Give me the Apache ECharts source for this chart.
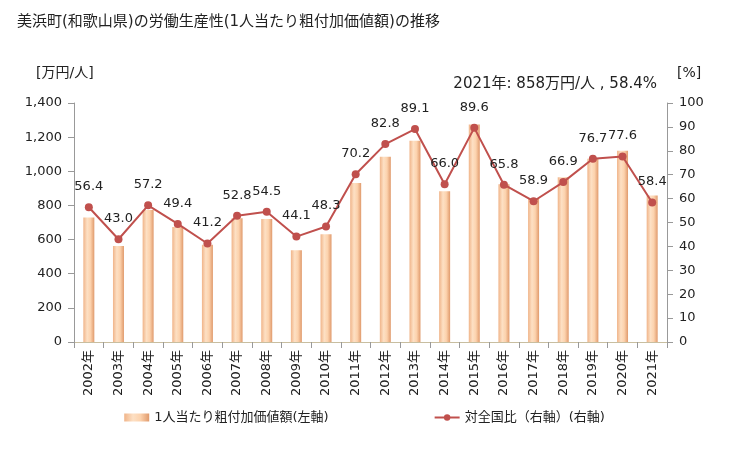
<!DOCTYPE html>
<html><head><meta charset="utf-8">
<script src="https://cdn.jsdelivr.net/npm/echarts@6/dist/echarts.min.js"></script>
<style>html,body{margin:0;padding:0;background:#fff}#c{width:729px;height:450px}</style>
</head><body><div id="c"></div>
<script>
const categories = ['2002年','2003年','2004年','2005年','2006年','2007年','2008年','2009年','2010年','2011年','2012年','2013年','2014年','2015年','2016年','2017年','2018年','2019年','2020年','2021年'];
const productivity = [730,562,773,674,570,725,721,537,631,931,1085,1179,883,1274,924,842,965,1073,1120,858];
const ratio = [56.4,43.0,57.2,49.4,41.2,52.8,54.5,44.1,48.3,70.2,82.8,89.1,66.0,89.6,65.8,58.9,66.9,76.7,77.6,58.4];
const leftTicks = {min:0,max:1400,interval:200};
const rightTicks = {min:0,max:100,interval:10};
const titleText = '美浜町(和歌山県)の労働生産性(1人当たり粗付加価値額)の推移';
const noteText = '2021年: 858万円/人 , 58.4%';
const barName = '1人当たり粗付加価値額(左軸)';
const lineName = '対全国比（右軸）(右軸)';

const font = 'Verdana, "DejaVu Sans", "Noto Sans CJK JP", sans-serif';
const chart = echarts.init(document.getElementById('c'));
chart.setOption({
  animation:false,
  textStyle:{fontFamily:font},
  title:{text:titleText,left:12,top:10,textStyle:{fontSize:15,fontWeight:'normal',color:'#222',fontFamily:font}},
  graphic:[
    {type:'text',left:36,top:66,style:{text:'[万円/人]',fontSize:14,fill:'#222',fontFamily:font}},
    {type:'text',left:677,top:66,style:{text:'[%]',fontSize:14,fill:'#222',fontFamily:font}},
    {type:'text',right:72,top:77,style:{text:noteText,fontSize:15,fill:'#222',fontFamily:font}}
  ],
  grid:{left:74,right:62,top:103,bottom:108},
  legend:{bottom:21,left:'center',itemGap:105,itemWidth:25,itemHeight:8,
    textStyle:{fontSize:13,color:'#222',fontFamily:font},
    data:[{name:barName,icon:'rect'},{name:lineName}]},
  xAxis:[{type:'category',data:categories,
    axisLine:{lineStyle:{color:'#999'}},
    axisTick:{show:true,lineStyle:{color:'#999'},length:6},
    axisLabel:{rotate:90,fontSize:13,color:'#222',margin:8,fontFamily:font}},
    {type:'category',position:'top',data:categories,axisLine:{show:true,lineStyle:{color:'#c8bea0'}},axisTick:{show:false},axisLabel:{show:false}}],
  yAxis:[{type:'value',min:leftTicks.min,max:leftTicks.max,interval:leftTicks.interval,
    axisLine:{show:true,lineStyle:{color:'#999'}},axisTick:{show:true,length:6,lineStyle:{color:'#999'}},
    splitLine:{show:false},
    axisLabel:{fontSize:13,color:'#222',margin:12,fontFamily:font,formatter:v=>v.toLocaleString('en-US')}},
    {type:'value',min:rightTicks.min,max:rightTicks.max,interval:rightTicks.interval,position:'right',
    axisLine:{show:true,lineStyle:{color:'#999'}},axisTick:{show:true,length:6,lineStyle:{color:'#999'}},
    splitLine:{show:false},axisLabel:{fontSize:13,color:'#222',margin:12,fontFamily:font}}],
  series:[
    {name:barName,type:'bar',data:productivity,barWidth:11,yAxisIndex:0,xAxisIndex:0,
      itemStyle:{color:new echarts.graphic.LinearGradient(0,0,1,0,[
        {offset:0,color:'#f0b489'},{offset:0.35,color:'#fde0c4'},{offset:0.65,color:'#fcd2ad'},{offset:1,color:'#e09a6c'}])}},
    {name:lineName,type:'line',data:ratio,yAxisIndex:1,xAxisIndex:0,
      symbol:'circle',symbolSize:8,
      lineStyle:{color:'#c0504d',width:2},itemStyle:{color:'#c0504d'},
      label:{show:true,position:'top',distance:10,fontSize:13,color:'#222',fontFamily:font,formatter:p=>p.value.toFixed(1)}}
  ]
});
</script></body></html>
